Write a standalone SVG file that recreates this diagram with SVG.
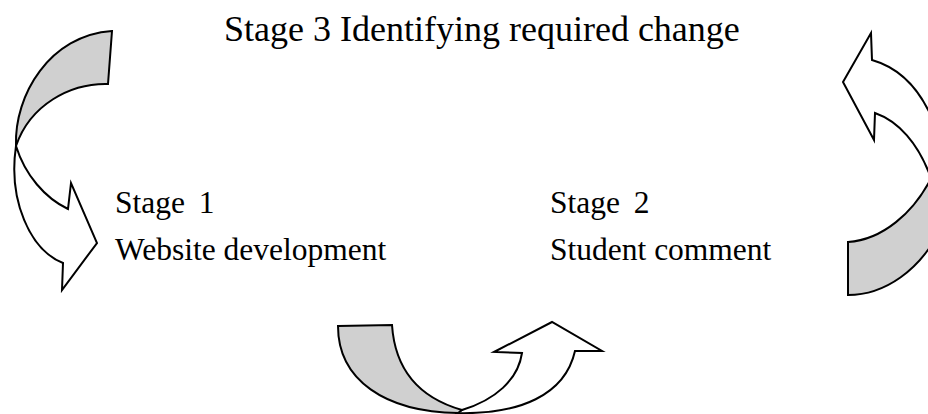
<svg xmlns="http://www.w3.org/2000/svg" width="928" height="414" viewBox="0 0 928 414">
  <style>
    .lbl { font-family: "Liberation Serif", "Times New Roman", serif; font-size: 31.5px; fill: #000; }
    .title { font-size: 36px; }
    .head { fill: #ffffff; stroke: #000; stroke-width: 2; stroke-linejoin: miter; }
    .tail { fill: #d0d0d0; stroke: #000; stroke-width: 2; stroke-linejoin: miter; }
  </style>
  <rect width="928" height="414" fill="#ffffff"/>

  <!-- curved cycle arrows -->
  <g id="connectors">
    <!-- stage 3 -> stage 1 (left) -->
    <g id="arrow-left">
      <path class="head" d="M16,146 C8,200 30,250 63,263 L62,290 L97,243 L71,183 L68,209 C45,198 25,175 16,146 Z"/>
      <path class="tail" d="M112,31 L108,84 C70,83 30,105 16,146 C14,95 50,35 112,31 Z"/>
    </g>
    <!-- stage 1 -> stage 2 (bottom) -->
    <g id="arrow-bottom">
      <path class="head" d="M455,413 C520,415 565,395 575,351 L602,351 L552,322 L494,352 L522,353 C518,380 495,400 462,410 Z"/>
      <path class="tail" d="M338,326 L392,325 C395,370 420,398 462,410 L458,413 C385,412 338,380 338,326 Z"/>
    </g>
    <!-- stage 2 -> stage 3 (right) -->
    <g id="arrow-right">
      <path class="head" d="M871,33 L872,60 C900,68 925,90 940,140 L960,140 L960,190 L935,190 C920,140 895,120 875,113 L874,140 L843,82 Z"/>
      <path class="tail" d="M848,242 C880,240 915,215 935,170 L960,170 L960,230 L940,230 C920,270 885,295 848,295 Z"/>
    </g>
  </g>

  <g id="stage3">
    <text class="lbl title" x="224" y="41">Stage 3 Identifying required change</text>
  </g>
  <g id="stage1">
    <text class="lbl" x="115" y="213">Stage <tspan dx="6">1</tspan></text>
    <text class="lbl" x="115" y="260">Website development</text>
  </g>
  <g id="stage2">
    <text class="lbl" x="550" y="213">Stage <tspan dx="6">2</tspan></text>
    <text class="lbl" x="550" y="260">Student comment</text>
  </g>
</svg>
